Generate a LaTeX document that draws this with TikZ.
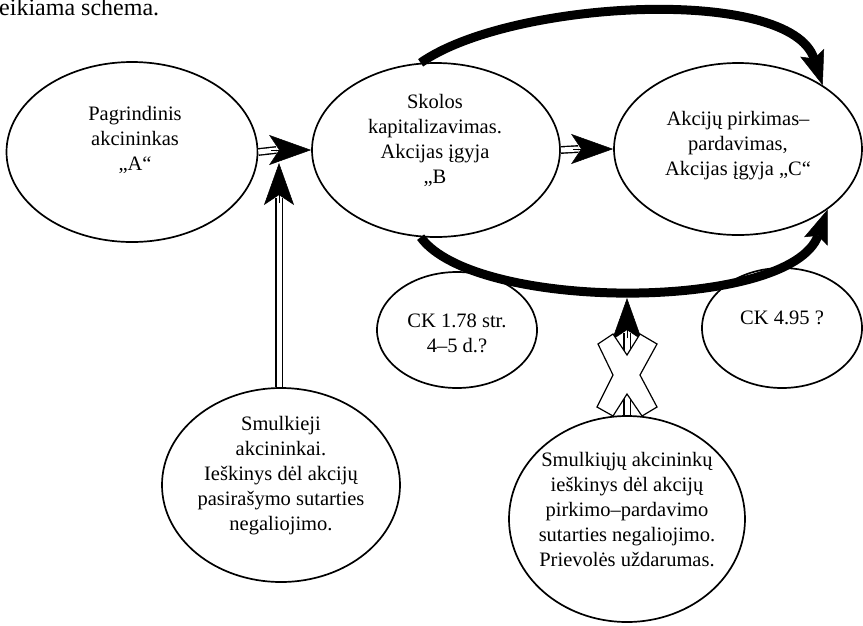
\documentclass[tikz,border=0pt]{standalone}
\usepackage{fontspec}
\setmainfont{Liberation Serif}
\usetikzlibrary{arrows.meta,shapes.geometric,calc}
\begin{document}
\begin{tikzpicture}[x=1pt,y=-1pt,
  ell/.style={draw,line width=1.7pt,ellipse,fill=white,inner sep=0pt},
  lbl/.style={align=center,inner sep=0pt,font=\fontsize{20.5}{25}\selectfont},
  shaft/.style={draw=black,line width=1.4pt,double=white,double distance=5pt},
  bighead/.style={line width=0.5pt,-{Stealth[length=42pt,width=30pt,inset=10pt,line width=0.5pt]}},
  arcarrow/.style={line width=9pt,-{Stealth[length=34pt,width=25pt,inset=6pt,line width=0.5pt]}},
  xmark/.style={draw=black,line width=1.2pt,fill=white,line join=miter}
]
\useasboundingbox (0,0) rectangle (863,625);
\node[anchor=base west,inner sep=0pt,font=\fontsize{24}{28}\selectfont] (top) at (-1,15) {eikiama schema.};

% ellipses
\node[ell,minimum width=251pt,minimum height=180pt] (A) at (132,152) {};
\node[ell,minimum width=248pt,minimum height=174pt] (B) at (436,150) {};
\node[ell,minimum width=248pt,minimum height=172pt] (C) at (738,149) {};
\node[ell,minimum width=160pt,minimum height=116pt] (K1) at (457,330) {};
\node[ell,minimum width=160pt,minimum height=120pt] (K2) at (782,328) {};
\node[ell,minimum width=238pt,minimum height=194pt] (S1) at (281,485) {};
\node[ell,minimum width=236pt,minimum height=206pt] (S2) at (627,519) {};

% texts
\node[lbl] (At) at (135,140) {Pagrindinis\\akcininkas\\„A“};
\node[lbl] (Bt) at (435,140) {Skolos\\kapitalizavimas.\\Akcijas įgyja\\„B};
\node[lbl] (Ct) at (738,146) {Akcijų pirkimas–\\pardavimas,\\Akcijas įgyja „C“};
\node[lbl] (K1t) at (457,333) {CK 1.78 str.\\4–5 d.?};
\node[lbl] (K2t) at (782,318) {CK 4.95 ?};
\node[lbl] (S1t) at (281,476) {Smulkieji\\akcininkai.\\Ieškinys dėl akcijų\\pasirašymo sutarties\\negaliojimo.};
\node[lbl] (S2t) at (627,510) {Smulkiųjų akcininkų\\ieškinys dėl akcijų\\pirkimo–pardavimo\\sutarties negaliojimo.\\Prievolės uždarumas.};

% curved thick arrows
\draw[arcarrow] (B.100) .. controls (510,0) and (790,-15) .. (C.37);
\draw[arcarrow] (B.260) .. controls (475,312) and (790,312) .. (C.-34);

% A -> B
\draw[shaft] (A.east) -- ($(B.west)+(-35,0)$);
\draw[bighead] ($(B.west)+(-40,0)$) -- (B.west);
% B -> C
\draw[shaft] (B.east) -- ($(C.west)+(-35,0)$);
\draw[bighead] ($(C.west)+(-40,0)$) -- (C.west);
% S1 up
\coordinate (t1) at (279,163);
\draw[shaft] (t1 |- S1.north) -- ($(t1)+(0,35)$);
\draw[bighead] ($(t1)+(0,40)$) -- (t1);
% S2 up
\coordinate (t2) at (627,298);
\draw[shaft] (t2 |- S2.north) -- ($(t2)+(0,35)$);
\draw[bighead] ($(t2)+(0,40)$) -- (t2);
% white X
\draw[xmark] (598,344) -- (613,334) -- (627,355) -- (640,334) -- (657,344) -- (640,375) -- (657,407) -- (642,416) -- (627,394) -- (613,416) -- (597,407) -- (613,375) -- cycle;
\end{tikzpicture}
\end{document}
